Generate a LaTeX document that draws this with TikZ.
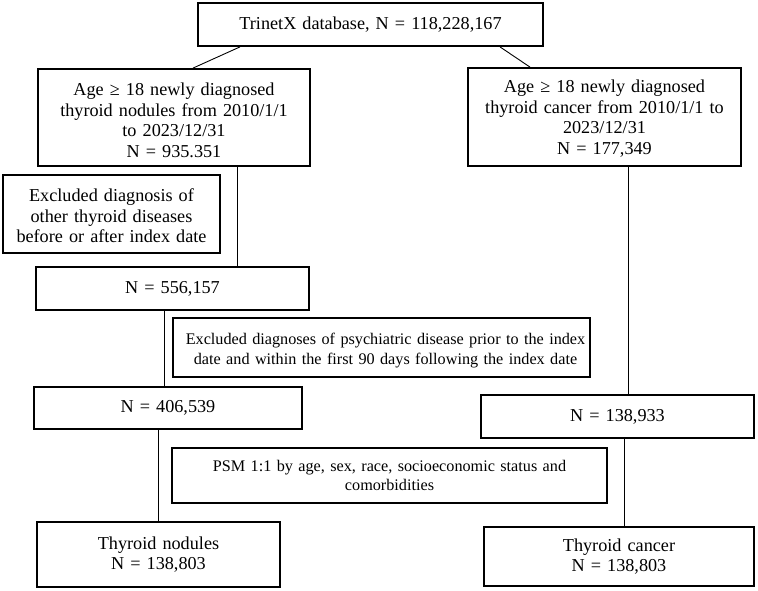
\documentclass[tikz,border=0pt]{standalone}
\usepackage{fontspec}
\setmainfont{Liberation Serif}
\newcommand{\myup}[1]{\rule{0pt}{#1}}
\begin{document}
\begin{tikzpicture}[x=1pt,y=-1pt,
  box/.style={draw, line width=1.8pt, inner sep=0pt, align=center,
    font=\fontsize{18.2}{20.5}\selectfont},
  bx/.style 2 args={box, text width=#1, minimum height=#2},
  small/.style={font=\fontsize{16.2}{19.8}\selectfont},
  link/.style={line width=0.9pt}]
\useasboundingbox (0,0) rectangle (758,591);
\fill[white] (0,0) rectangle (758,591);

\node[bx={345pt}{43pt}] (top) at (370.5,24.5) {\raisebox{-2.5pt}{TrinetX database, N = 118,228,167}};
\node[bx={272pt}{97pt}] (L1) at (174,117.5) {\myup{18pt}Age ≥ 18 newly diagnosed\\thyroid nodules from 2010/1/1\\to 2023/12/31\\N = 935.351};
\node[bx={273pt}{98pt}] (R1) at (604.5,117) {\myup{16pt}Age ≥ 18 newly diagnosed\\thyroid cancer from 2010/1/1 to\\2023/12/31\\N = 177,349};
\node[bx={217pt}{78pt}] (ex1) at (111.5,214) {\myup{17pt}Excluded diagnosis of\\other thyroid diseases\\before or after index date};
\node[bx={273pt}{43pt}] (n556) at (172.5,288.5) {\raisebox{-4pt}{N = 556,157}};
\node[bx={417pt}{59pt}, small] (ex2) at (381.5,347.5) {\myup{17pt}\hspace*{8pt}Excluded diagnoses of psychiatric disease prior to the index\\\hspace*{8pt}date and within the first 90 days following the index date};
\node[bx={268pt}{42pt}] (n406) at (168,408) {\raisebox{-4pt}{N = 406,539}};
\node[bx={273pt}{43pt}] (n138) at (617.5,416.5) {\raisebox{-3.5pt}{N = 138,933}};
\node[bx={435pt}{55pt}, small] (psm) at (389.5,475.5) {PSM 1:1 by age, sex, race, socioeconomic status and\\comorbidities};
\node[bx={243pt}{65pt}] (nod) at (158.5,554.5) {Thyroid nodules\\N = 138,803};
\node[bx={270pt}{59pt}] (can) at (619,556.5) {Thyroid cancer\\N = 138,803};

\draw[link] ([xshift=-130.5pt]top.south) -- ([xshift=19pt]L1.north);
\draw[link] ([xshift=129.5pt]top.south) -- ([xshift=-74.5pt]R1.north);

\path ([xshift=63pt]L1.south) coordinate (a1);
\draw[link] (a1) -- (a1 |- n556.north);
\path ([xshift=-8.5pt]n556.south) coordinate (a2);
\draw[link] (a2) -- (a2 |- n406.north);
\path ([xshift=-10pt]n406.south) coordinate (a3);
\draw[link] (a3) -- (a3 |- nod.north);
\path ([xshift=23.5pt]R1.south) coordinate (b1);
\draw[link] (b1) -- (b1 |- n138.north);
\path ([xshift=6.5pt]n138.south) coordinate (b2);
\draw[link] (b2) -- (b2 |- can.north);
\end{tikzpicture}
\end{document}
